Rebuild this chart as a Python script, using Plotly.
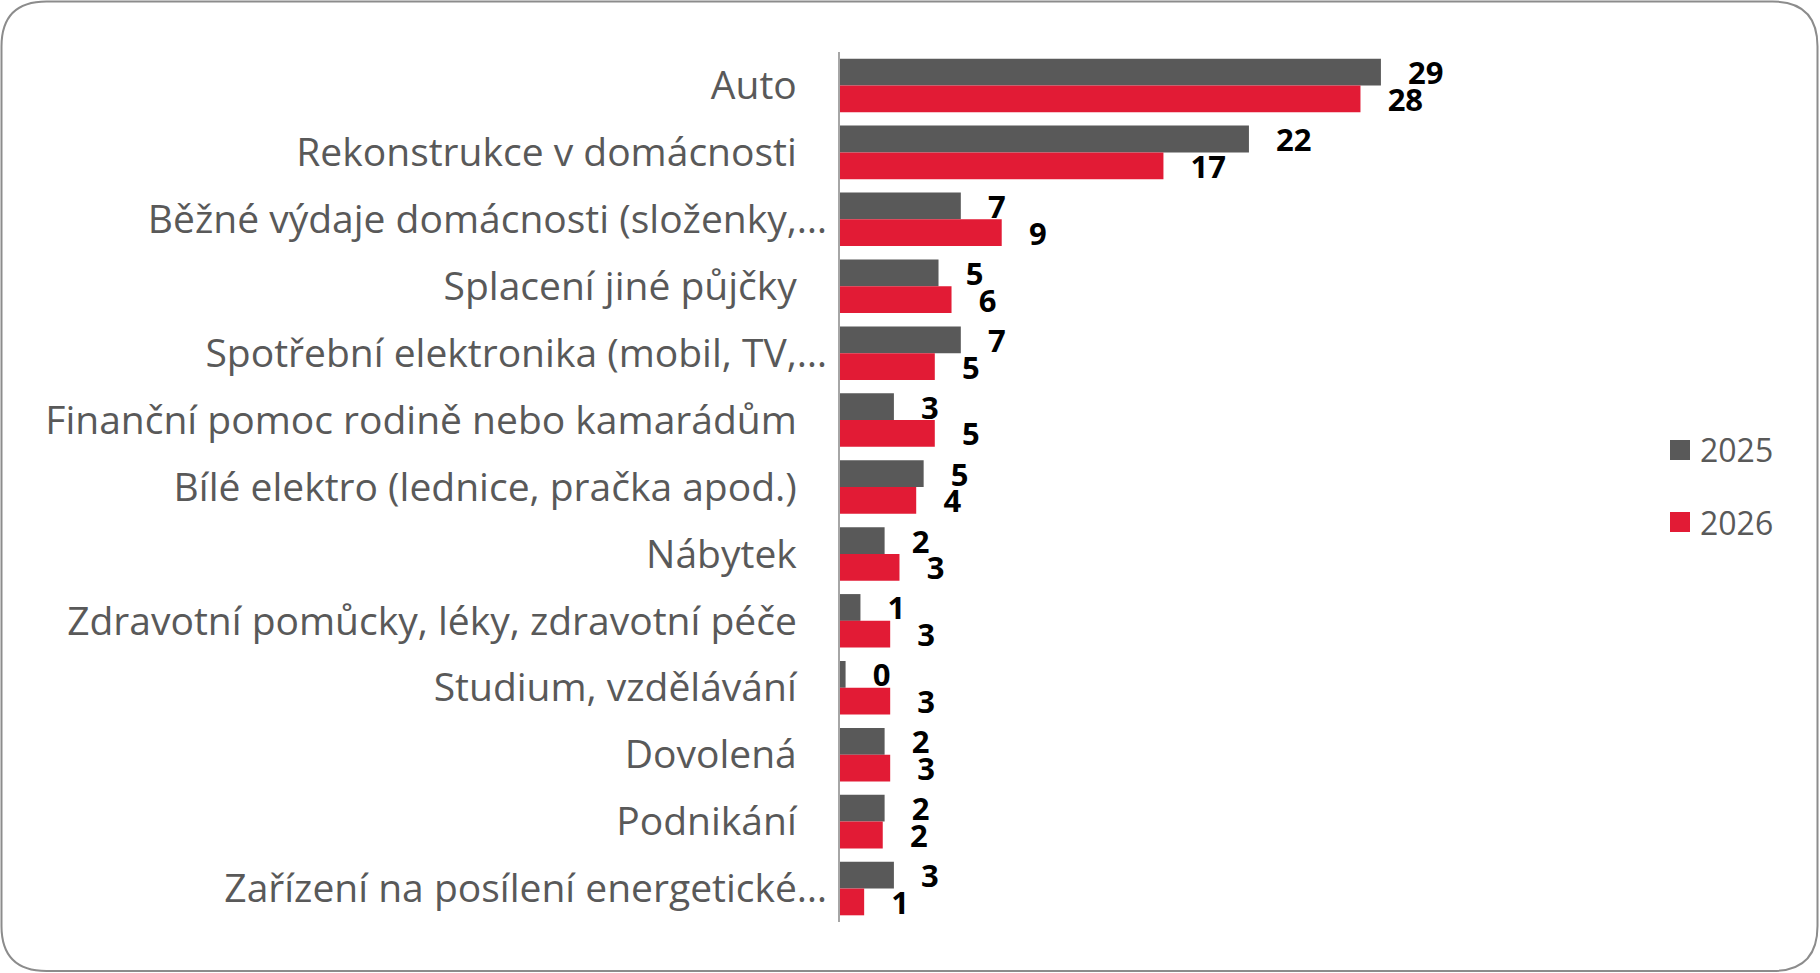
import plotly.graph_objects as go

categories = [
    "Auto",
    "Rekonstrukce v domácnosti",
    "Běžné výdaje domácnosti (složenky,…",
    "Splacení jiné půjčky",
    "Spotřební elektronika (mobil, TV,…",
    "Finanční pomoc rodině nebo kamarádům",
    "Bílé elektro (lednice, pračka apod.)",
    "Nábytek",
    "Zdravotní pomůcky, léky, zdravotní péče",
    "Studium, vzdělávání",
    "Dovolená",
    "Podnikání",
    "Zařízení na posílení energetické…",
]
series_names = ["2025", "2026"]
values_2025 = [29.1, 22.0, 6.5, 5.3, 6.5, 2.9, 4.5, 2.4, 1.1, 0.3, 2.4, 2.4, 2.9]
values_2026 = [28.0, 17.4, 8.7, 6.0, 5.1, 5.1, 4.1, 3.2, 2.7, 2.7, 2.7, 2.3, 1.3]

colors = ["#595959", "#E21B35"]
font = "Open Sans"

# plot area in pixels (figure is 1820 x 973)
L, R, T, B = 840, 1472, 52, 922
W, H = R - L, B - T


def px(x):
    return (x - L) / W


def py(y):
    return (B - y) / H


fig = go.Figure()
for name, vals, col in zip(series_names, [values_2025, values_2026], colors):
    fig.add_trace(go.Bar(
        y=categories, x=vals, name=name, orientation="h",
        marker=dict(color=col, line=dict(width=0)),
        text=vals, texttemplate="\u00a0\u00a0\u00a0%{x:.0f}",
        textposition="outside", cliponaxis=False, constraintext="none",
        textfont=dict(family=font, size=31, color="black", weight="bold"),
        showlegend=False,
    ))

# tick labels: shorter labels sit further from the axis than truncated ones
ticktext = [c if c.endswith("…") else c + "\u00a0\u00a0\u00a0" for c in categories]

fig.update_yaxes(
    tickmode="array", tickvals=categories, ticktext=ticktext,
    autorange="reversed", showline=True, linecolor="#A6A6A6", linewidth=2,
    ticks="", ticklabelstandoff=3, showgrid=False, automargin=False,
    tickfont=dict(family=font, size=39, color="#595959"),
)
fig.update_xaxes(range=[0, 34], visible=False, automargin=False)

# rounded outer border
x0, y0, x1, y1, r = 1.5, 1.5, 1817.5, 971, 45
pts = [("M", x0 + r, y0), ("L", x1 - r, y0), ("Q", x1, y0, x1, y0 + r),
       ("L", x1, y1 - r), ("Q", x1, y1, x1 - r, y1), ("L", x0 + r, y1),
       ("Q", x0, y1, x0, y1 - r), ("L", x0, y0 + r), ("Q", x0, y0, x0 + r, y0)]
path = ""
for p in pts:
    cmd, coords = p[0], p[1:]
    xy = [f"{px(coords[i]):.5f},{py(coords[i + 1]):.5f}" for i in range(0, len(coords), 2)]
    path += cmd + " ".join(xy) + " "
path += "Z"
fig.add_shape(type="path", path=path, xref="paper", yref="paper",
              line=dict(color="#8C8C8C", width=2), layer="below")

# legend drawn by hand to get the larger square keys
for i, (name, col) in enumerate(zip(series_names, colors)):
    cy = 450 + i * 72
    fig.add_shape(type="rect", xref="paper", yref="paper",
                  x0=px(1670), x1=px(1690), y0=py(cy - 10), y1=py(cy + 10),
                  fillcolor=col, line=dict(width=0))
    fig.add_annotation(x=px(1698), y=py(cy), xref="paper", yref="paper",
                       text=name, showarrow=False, xanchor="left", yanchor="middle",
                       font=dict(family=font, size=32, color="#595959"))

fig.update_layout(
    width=1820, height=973,
    margin=dict(l=L, r=1820 - R, t=T, b=973 - B),
    barmode="group", bargap=0.2, bargroupgap=0,
    plot_bgcolor="white", paper_bgcolor="white",
    showlegend=False,
    font=dict(family=font),
)

fig.write_html("out.html", config={"displayModeBar": False},
               post_script="document.body.style.margin='0';")
